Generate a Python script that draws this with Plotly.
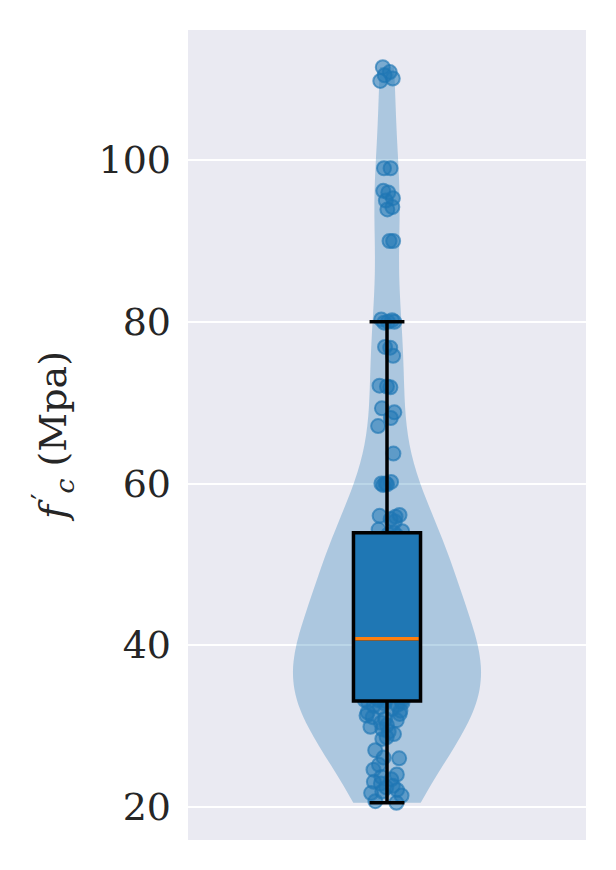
import plotly.graph_objects as go

# ---- data (f'c in MPa) ----
upper_tail = [111.5, 110.9, 110.5, 110.1, 109.8,
              99.0, 99.0,
              96.2, 96.0, 95.3, 95.0, 94.2, 93.9,
              90.0, 90.0,
              80.3, 80.2, 80.0, 80.0, 79.9,
              76.9, 76.8, 75.8,
              72.1, 72.0, 71.9,
              69.3, 68.8, 68.1, 67.1,
              63.7,
              60.2, 60.0, 60.0, 59.9, 59.8,
              56.1, 56.0, 55.9, 55.6, 55.3,
              54.3, 54.1]
upper_mid = [41.1, 41.4, 41.9, 42.2, 42.3, 42.9, 43.1, 43.6, 43.8, 44.2,
             44.5, 44.9, 45.3, 45.4, 45.9, 46.3, 46.6, 46.8, 47.3, 47.6,
             47.9, 48.2, 48.6, 48.8, 49.1, 49.5, 49.9, 50.2, 50.5, 50.7,
             51.0, 51.3, 51.5, 51.9, 52.1, 52.4, 52.7, 52.9, 53.1, 53.3,
             53.5, 53.7, 53.9]
lower_mid = [33.2, 33.4, 33.5, 33.8, 33.9, 34.1, 34.3, 34.4, 34.7, 34.8,
             35.0, 35.1, 35.3, 35.5, 35.6, 35.8, 36.0, 36.2, 36.3, 36.4,
             36.7, 36.9, 37.0, 37.2, 37.4, 37.5, 37.8, 37.9, 38.2, 38.3,
             38.6, 38.7, 38.9, 39.2, 39.3, 39.6, 39.7, 39.9, 40.1, 40.3,
             40.4, 40.6, 40.8]
lower_tail = [20.5, 20.7, 21.4, 21.7, 21.9, 22.1, 22.4, 22.6, 22.9, 23.1,
              23.4, 23.7, 24.0, 24.6, 25.2, 26.0, 26.1, 27.0, 28.4, 28.6,
              29.0, 29.3, 29.6, 29.9, 30.1, 30.4, 30.7, 30.9, 31.1, 31.3,
              31.5, 31.7, 31.9, 32.1, 32.3, 32.5, 32.6, 32.8, 32.9, 33.0,
              33.1, 33.2, 33.1]
fc = lower_tail + lower_mid + upper_mid + upper_tail

# box statistics (matplotlib-style, whiskers at 1.5 IQR)
q1 = [33.1]
median = [40.8]
q3 = [53.9]
lower_fence = [20.5]
upper_fence = [80.0]

y_ticks = [20, 40, 60, 80, 100]
y_title = "<i>f</i><sup>\u2009\u2032</sup><sub><i>c</i></sub> (Mpa)"

BLUE = "#1f77b4"
BOX_W = 0.337

fig = go.Figure()
fig.add_trace(go.Violin(
    y=fc, x0=0, width=0.945, scalemode="width", spanmode="hard",
    bandwidth=7.0, side="both",
    fillcolor="rgba(31,119,180,0.3)", line=dict(width=0, color="rgba(0,0,0,0)"),
    points="all", pointpos=0, jitter=0.24,
    marker=dict(size=14, color="rgba(31,119,180,0.55)",
                line=dict(width=2, color="rgba(31,119,180,0.65)")),
    box_visible=False, meanline_visible=False, showlegend=False,
    hoverinfo="y",
))
fig.add_trace(go.Box(
    x=[0], q1=q1, median=median, q3=q3,
    lowerfence=lower_fence, upperfence=upper_fence,
    width=BOX_W, whiskerwidth=0.52, boxpoints=False,
    fillcolor=BLUE, line=dict(color="black", width=3.5),
    showlegend=False,
))
fig.add_shape(type="line", layer="above",
              x0=-BOX_W / 2 + 0.009, x1=BOX_W / 2 - 0.009,
              y0=median[0], y1=median[0],
              line=dict(color="#ff7f0e", width=3.5))

fig.update_layout(
    width=616, height=870,
    margin=dict(l=180, r=38, t=22, b=38),
    paper_bgcolor="white", plot_bgcolor="#eaeaf2",
    font=dict(family="DejaVu Serif", color="#262626"),
    violinmode="overlay", boxmode="overlay",
)
fig.update_xaxes(range=[-1, 1], showticklabels=False, showgrid=False,
                 zeroline=False, ticks="")
fig.update_yaxes(range=[15.9, 116.1], tickvals=y_ticks,
                 tickfont=dict(size=38, family="DejaVu Serif", color="#262626"),
                 gridcolor="white", gridwidth=1.6, zeroline=False, ticks="",
                 ticklabelstandoff=16,
                 title=dict(text=y_title, standoff=20,
                            font=dict(size=38, family="DejaVu Serif", color="#262626")))

fig.write_html("out.html")
